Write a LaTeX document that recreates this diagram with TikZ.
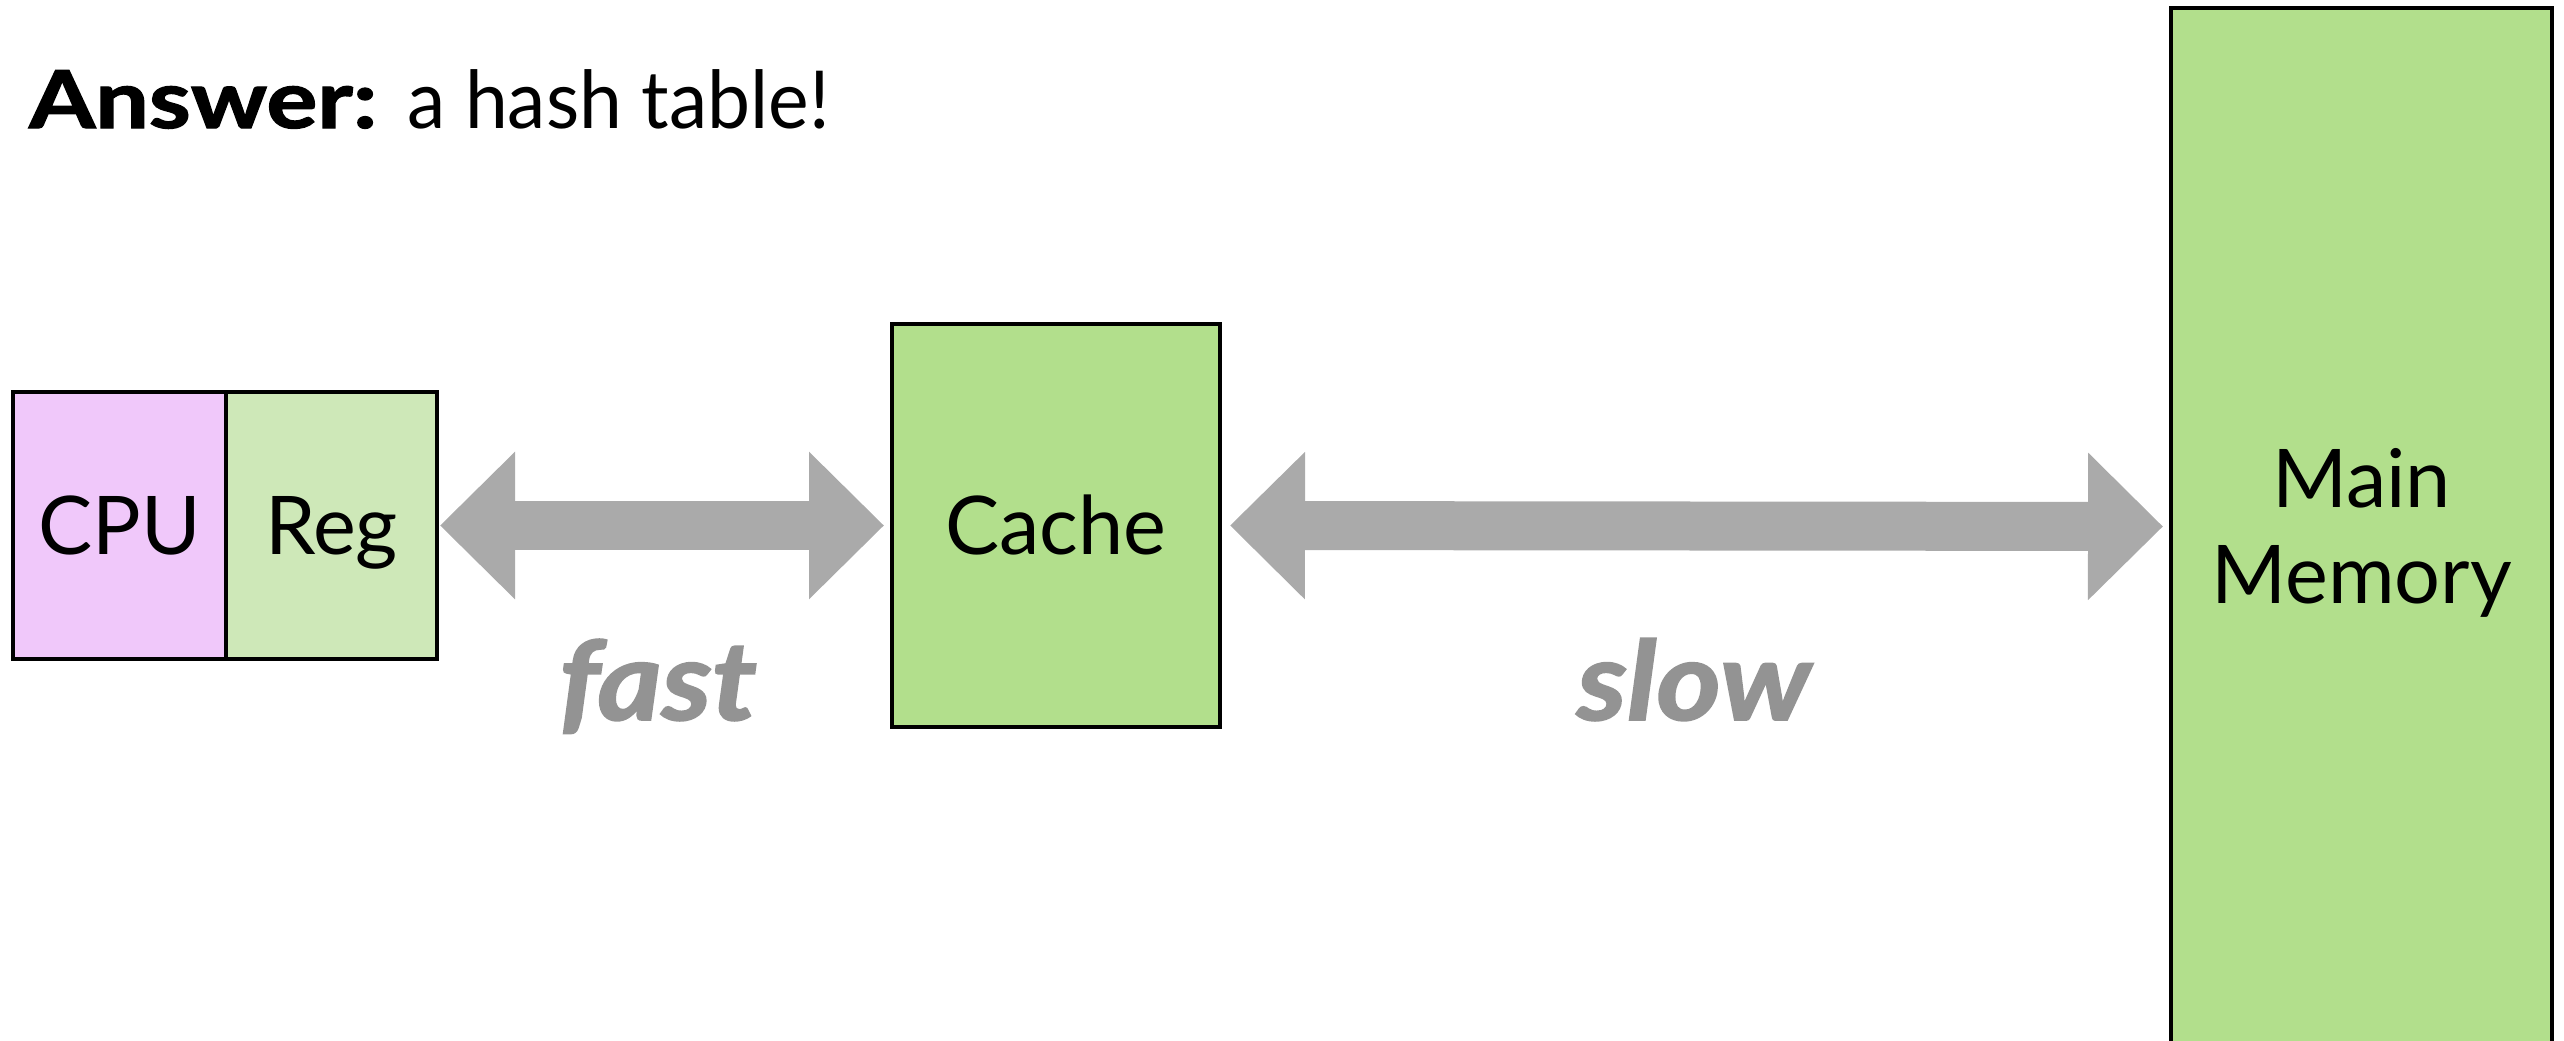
\documentclass[tikz,border=0pt]{standalone}
\usepackage{fontspec}
\setmainfont{Lato}
\newfontfamily\heavyfont[FakeBold=1.6]{Lato}
\usetikzlibrary{arrows.meta}
\definecolor{cpupink}{RGB}{240,200,250}
\definecolor{reggreen}{RGB}{206,232,184}
\definecolor{memgreen}{RGB}{178,223,140}
\definecolor{arrowgray}{RGB}{170,170,170}
\definecolor{labelgray}{RGB}{147,147,147}
\begin{document}
\begin{tikzpicture}[x=1pt,y=-1pt,
  box/.style={draw=black,line width=4pt,inner sep=0pt,
    font=\fontsize{81}{96}\selectfont,text height=58pt,text depth=0pt},
  bigarrow/.style={draw=arrowgray,line width=49pt,line cap=butt,
    {Triangle[length=75pt,width=143pt]}-{Triangle[length=75pt,width=143pt]}},
  speed/.style={text=labelgray,font=\fontsize{110}{120}\selectfont\heavyfont\bfseries\itshape,
    anchor=base,inner sep=0pt}]
\useasboundingbox (0,0) rectangle (2564,1041);
\clip (0,0) rectangle (2564,1041);
\node[anchor=base west,inner sep=0pt,font=\fontsize{80}{96}\selectfont] (answer) at (29,128)
  {\scalebox{1.19}[1]{\heavyfont\bfseries Answer:}\hspace{30pt}\scalebox{0.96}[1]{a hash table!}};
\node[box,fill=cpupink,minimum width=213pt,minimum height=267pt] (cpu) at (119.5,525.5) {CPU};
\node[box,fill=reggreen,minimum width=211pt,minimum height=267pt] (reg) at (331.5,525.5) {Reg};
\node[box,fill=memgreen,minimum width=328pt,minimum height=403pt] (cache) at (1056,525.5) {Cache};
\node[box,fill=memgreen,minimum width=381pt,minimum height=1037pt,text height=58pt,text depth=96pt]
  (main) at (2361.5,526.5) {\parbox[t]{381pt}{\centering Main\\Memory}};
\draw[bigarrow,shorten <=1pt,shorten >=6pt] (reg.east) -- (cache.west);
\draw[bigarrow,shorten <=8pt,shorten >=6pt] (cache.east) -- (main.west);
\node[speed] (fast) at (658,720) {\scalebox{1.12}[1]{fast}};
\node[speed] (slow) at (1694,720) {\scalebox{1.12}[1]{slow}};
\end{tikzpicture}
\end{document}
